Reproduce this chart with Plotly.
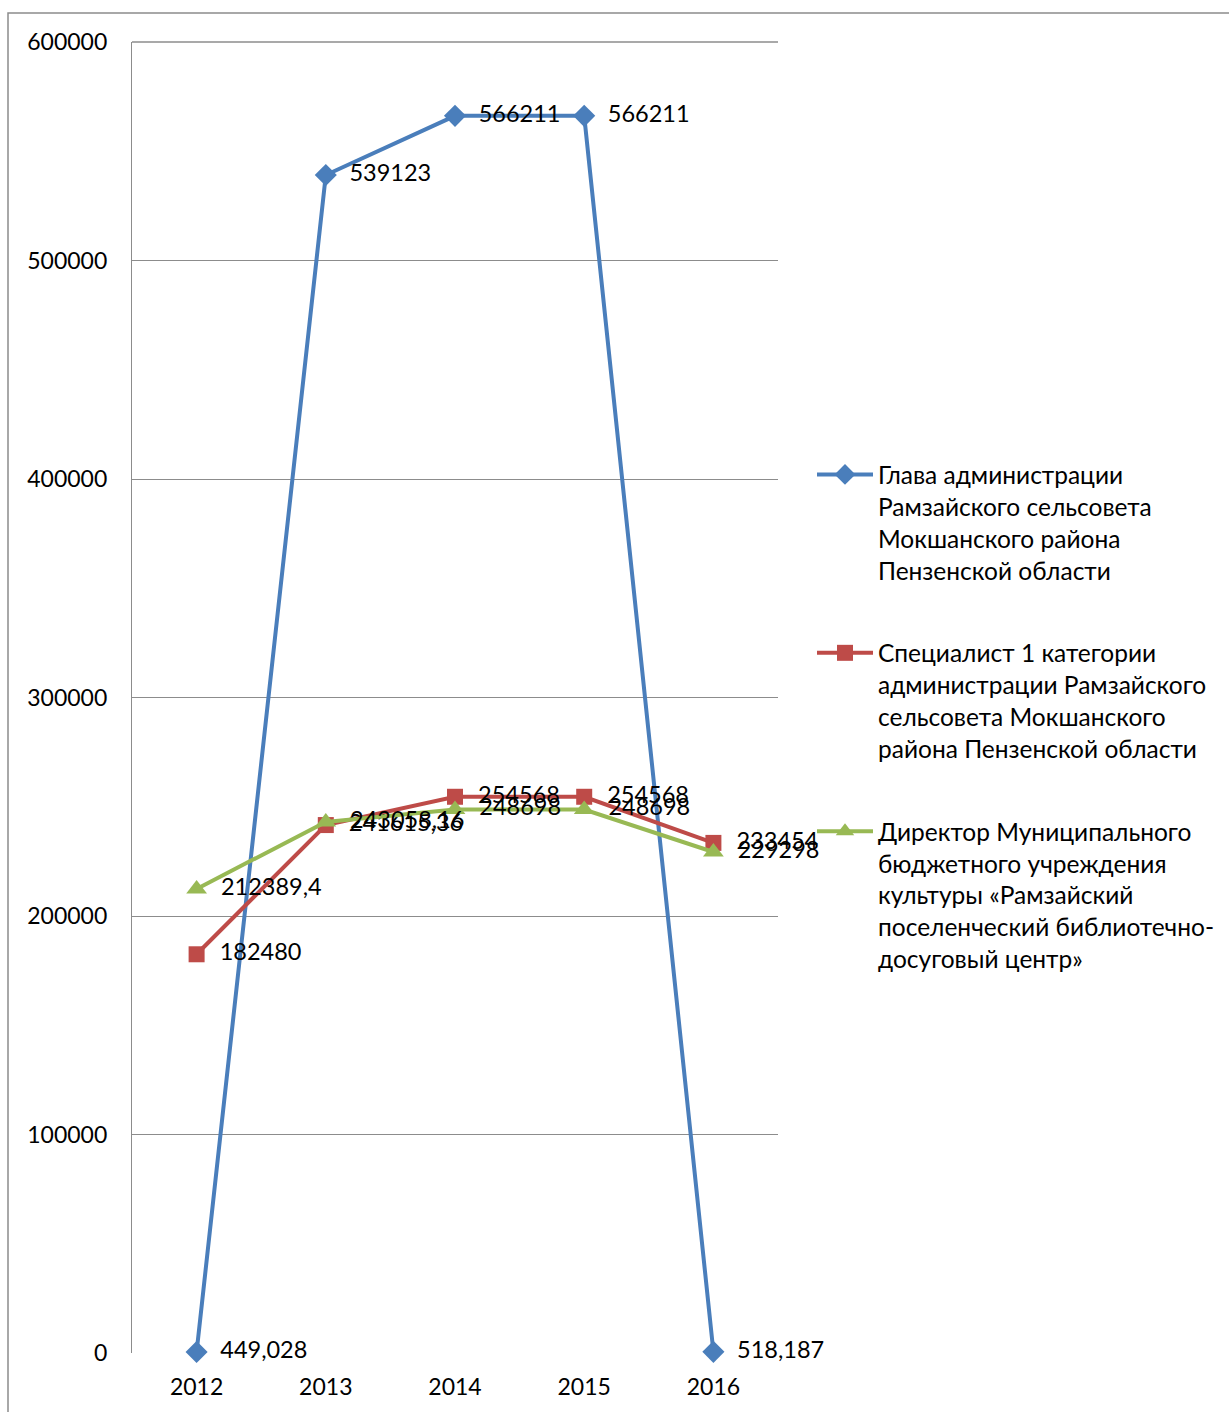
import plotly.graph_objects as go

years = ["2012", "2013", "2014", "2015", "2016"]

head_vals = [449.028, 539123, 566211, 566211, 518.187]
head_labels = ["449,028", "539123", "566211", "566211", "518,187"]

spec_vals = [182480, 241615.36, 254568, 254568, 233454]
spec_labels = ["182480", "241615,36", "254568", "254568", "233454"]

dir_vals = [212389.4, 243058.16, 248698, 248698, 229298]
dir_labels = ["212389,4", "243058,16", "248698", "248698", "229298"]

names = [
    "Глава администрации<br>Рамзайского сельсовета<br>Мокшанского района<br>Пензенской области",
    "Специалист 1 категории<br>администрации Рамзайского<br>сельсовета Мокшанского<br>района Пензенской области",
    "Директор Муниципального<br>бюджетного учреждения<br>культуры «Рамзайский<br>поселенческий библиотечно-<br>досуговый центр»",
]

FONT = "Lato, 'Noto Sans', sans-serif"
W, H = 1229, 1412
L, R, T, B = 132, 778, 42, 1353

fig = go.Figure()
series = [
    (head_vals, head_labels, "#4a7ebb", "diamond", 17),
    (spec_vals, spec_labels, "#be4b48", "square", 16),
    (dir_vals, dir_labels, "#98b954", "triangle-up", 18),
]
for i, (vals, labs, col, sym, sz) in enumerate(series):
    fig.add_trace(go.Scatter(
        x=years, y=vals, name=names[i], legendgroup=str(i),
        mode="lines+markers+text",
        line=dict(color=col, width=4),
        marker=dict(color=col, symbol=sym, size=sz),
        text=labs, texttemplate="  %{text}", textposition="middle right",
        textfont=dict(family=FONT, size=23.5, color="black"),
        cliponaxis=False,
    ))

pw = R - L
ph = B - T
def px(x):
    return (x - L) / pw
def py(y):
    return (B - y) / ph

fig.update_layout(
    width=W, height=H,
    margin=dict(l=L, r=W - R, t=T, b=H - B, autoexpand=False),
    paper_bgcolor="white", plot_bgcolor="white",
    font=dict(family=FONT, size=23, color="black"),
    showlegend=True,
    legend=dict(
        x=px(812), y=py(452), xanchor="left", yanchor="top",
        valign="top", tracegroupgap=48, itemwidth=56,
        font=dict(family=FONT, size=24.5, color="black"),
        bgcolor="rgba(0,0,0,0)",
    ),
    xaxis=dict(
        type="category", range=[-0.5, 4.5],
        showgrid=False, showline=False, zeroline=False,
        ticks="", ticklabelstandoff=18,
        tickfont=dict(family=FONT, size=23),
    ),
    yaxis=dict(
        range=[0, 600000], dtick=100000,
        showgrid=True, gridcolor="#8c8c8c", gridwidth=1.3,
        showline=True, linecolor="#8c8c8c", linewidth=1.3,
        zeroline=False, ticks="", ticklabelstandoff=19,
        tickformat="d",
        tickfont=dict(family=FONT, size=23),
    ),
    shapes=[
        dict(type="line", xref="paper", yref="paper", x0=0, x1=1, y0=1, y1=1,
             line=dict(color="#8c8c8c", width=1.3)),
        dict(type="rect", xref="paper", yref="paper",
             x0=px(8), x1=px(1260), y0=py(1430), y1=py(13),
             line=dict(color="#8c8c8c", width=1.5), layer="below"),
    ],
)

fig.write_html("out.html")
